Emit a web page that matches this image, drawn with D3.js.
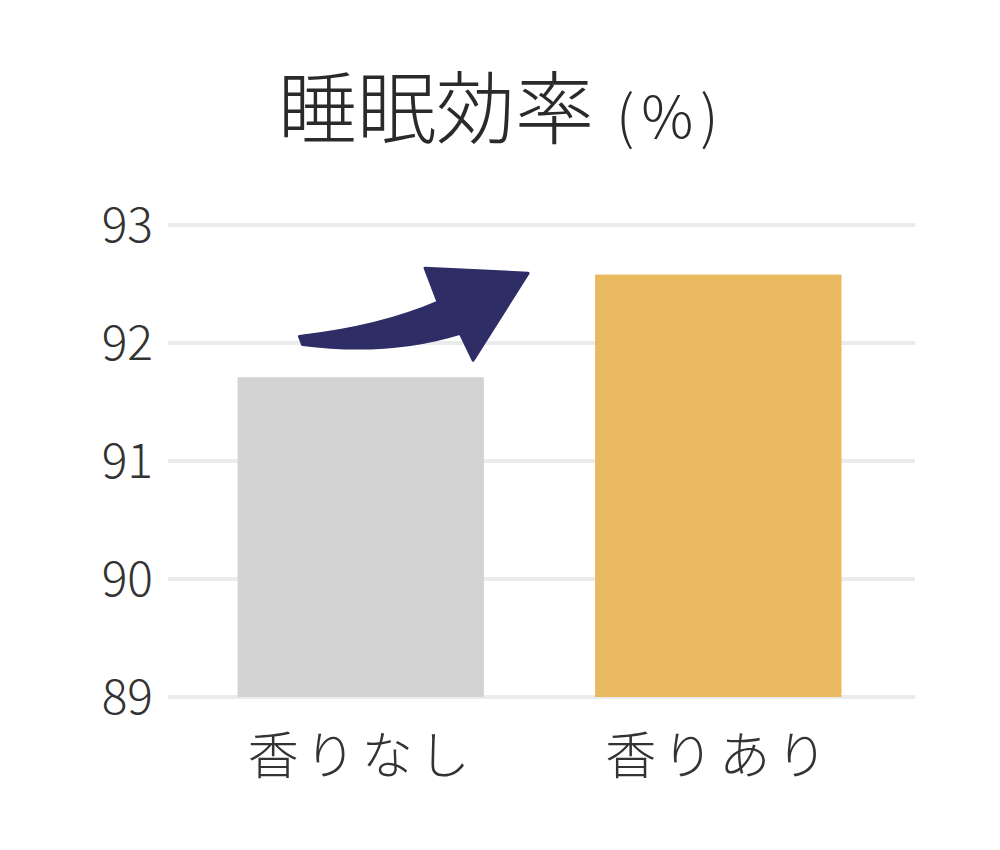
<!DOCTYPE html>
<html>
<head>
<meta charset="utf-8">
<script src="https://cdn.jsdelivr.net/npm/d3@7"></script>
<style>
  body { margin: 0; background: #fff; }
  svg { display: block; font-family: "Noto Sans CJK JP", "Noto Sans", sans-serif; }
</style>
</head>
<body>
<div id="chart"></div>
<script>
const categories = ["香りなし", "香りあり"];
const values = [91.71, 92.58];
const barColors = ["#d3d3d3", "#e8b95e"];
const yTicks = [89, 90, 91, 92, 93];
const titleMain = "睡眠効率";
const titleUnit = "(%)";

const width = 1000, height = 850;

const svg = d3.select("#chart")
  .append("svg")
  .attr("width", width)
  .attr("height", height);

const x = d3.scaleBand()
  .domain(categories)
  .range([166, 913])
  .paddingInner(0.311)
  .paddingOuter(0.2);

const y = d3.scaleLinear()
  .domain([89, 93])
  .range([697, 225]);

// gridlines
svg.append("g")
  .selectAll("line")
  .data(yTicks)
  .join("line")
  .attr("x1", 168)
  .attr("x2", 915)
  .attr("y1", (d) => y(d))
  .attr("y2", (d) => y(d))
  .attr("stroke", "#ebebeb")
  .attr("stroke-width", 4);

// y tick labels
svg.append("g")
  .selectAll("text")
  .data(yTicks)
  .join("text")
  .attr("x", 153)
  .attr("y", (d) => y(d))
  .attr("dy", "0.36em")
  .attr("text-anchor", "end")
  .attr("font-size", 48)
  .attr("font-weight", 300)
  .attr("fill", "#333")
  .text((d) => d);

// bars
svg.append("g")
  .selectAll("rect")
  .data(categories)
  .join("rect")
  .attr("x", (d) => x(d))
  .attr("width", x.bandwidth())
  .attr("y", (d, i) => y(values[i]))
  .attr("height", (d, i) => y(89) - y(values[i]))
  .attr("fill", (d, i) => barColors[i]);

// x labels
svg.append("g")
  .selectAll("text")
  .data(categories)
  .join("text")
  .attr("x", (d) => x(d) + x.bandwidth() / 2 + 1)
  .attr("y", 774)
  .attr("text-anchor", "middle")
  .attr("font-size", 51)
  .attr("font-weight", 300)
  .attr("letter-spacing", 6)
  .attr("fill", "#333")
  .text((d) => d);

// title
const title = svg.append("text")
  .attr("x", 278)
  .attr("y", 138)
  .attr("fill", "#2a2a2a")
  .attr("font-weight", 300);
title.append("tspan").attr("font-size", 79).text(titleMain);
title.append("tspan").attr("font-size", 58).attr("dx", 22).attr("letter-spacing", 7).text(titleUnit);

// arrow from first bar toward second bar
const ax = x(categories[0]) + 62;
const ay = y(92.03);
const tx = x(categories[1]) - 67;
const ty = y(92.6);
const arrow = d3.path();
arrow.moveTo(ax, ay - 3);
arrow.quadraticCurveTo(ax + 80, ay - 12, tx - 90, ty + 30);
arrow.lineTo(tx - 103, ty - 4);
arrow.lineTo(tx, ty + 1);
arrow.lineTo(tx - 55, ty + 88);
arrow.lineTo(tx - 68, ty + 61);
arrow.quadraticCurveTo(tx - 140, ay + 16, ax + 3, ay + 5);
arrow.closePath();
svg.append("path")
  .attr("d", arrow.toString())
  .attr("fill", "#2e2d66")
  .attr("stroke", "#2e2d66")
  .attr("stroke-width", 3)
  .attr("stroke-linejoin", "round");
</script>
</body>
</html>
